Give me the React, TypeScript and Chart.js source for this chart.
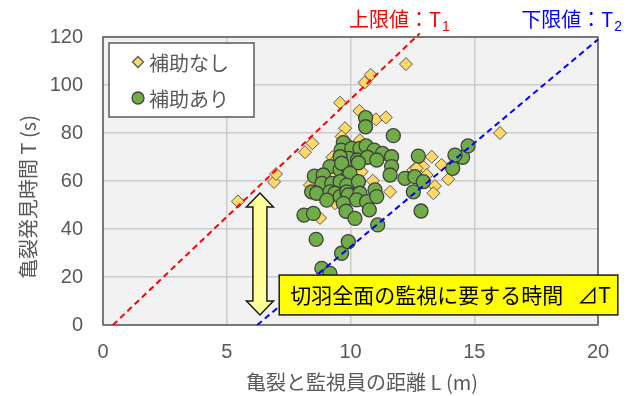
import React, { useEffect, useRef } from 'react';
import { Chart, registerables } from 'chart.js';

Chart.register(...registerables);

// 補助なし (diamonds): distance L (m) and detection time T (s)
const NO_ASSIST_L = [5.45, 6.91, 6.99, 8.16, 8.46, 9.58, 10.57, 10.82, 12.24, 10.36, 11.03, 11.43, 9.78, 9.64, 10.38, 9.27, 9.37, 10.45, 10.9, 11.6, 8.77, 8.36, 12.54, 13.28, 13.68, 13.95, 13.41, 13.35, 12.94, 13.08, 12.67, 16.04, 8.84, 9.35, 9.37, 10.07, 10.32, 9.98, 9.9, 10.1];
const NO_ASSIST_T = [51.5, 59.6, 62.9, 72.0, 75.7, 92.6, 101.0, 104.2, 108.7, 89.2, 85.7, 86.5, 82.0, 78.5, 77.0, 69.9, 62.5, 63.9, 60.1, 55.5, 44.6, 58.3, 64.6, 70.1, 66.7, 60.7, 57.9, 54.9, 66.0, 62.5, 65.3, 80.0, 62.5, 68.0, 50.7, 58.3, 57.0, 67.4, 75.5, 71.0];

// 補助あり (circles)
const ASSIST_L = [10.61, 10.61, 11.73, 9.71, 9.62, 10.05, 10.38, 10.63, 10.96, 11.29, 11.66, 9.94, 10.28, 10.69, 11.06, 9.58, 11.66, 12.74, 9.17, 9.58, 9.64, 10.32, 8.54, 8.9, 9.91, 9.98, 11.6, 12.2, 12.6, 12.94, 12.54, 8.84, 9.24, 9.58, 9.85, 10.32, 8.43, 8.63, 9.17, 9.37, 9.58, 9.85, 9.91, 10.38, 9.04, 9.71, 10.25, 10.65, 10.99, 11.06, 8.12, 8.5, 9.82, 10.18, 10.76, 11.1, 12.85, 8.61, 9.64, 9.91, 8.84, 9.17, 14.13, 14.53, 14.22, 14.75];
const ASSIST_T = [86.4, 82.6, 78.9, 76.0, 72.9, 73.6, 73.6, 74.6, 72.9, 71.5, 70.1, 69.4, 68.75, 69.9, 68.75, 70.1, 66.0, 70.4, 66.0, 64.6, 67.4, 67.6, 62.0, 62.5, 62.5, 63.2, 62.5, 61.1, 61.8, 59.7, 55.5, 59.0, 59.0, 59.7, 58.3, 59.7, 55.5, 54.9, 55.5, 54.9, 53.5, 55.5, 54.2, 54.9, 52.0, 50.7, 52.1, 51.4, 56.3, 53.5, 45.8, 46.5, 47.4, 44.4, 48.0, 41.7, 47.5, 35.7, 29.9, 34.7, 23.6, 21.5, 65.3, 69.9, 70.8, 74.6];

// limit lines T1 (upper) and T2 (lower)
const UPPER_L = [0.4, 12.8];
const UPPER_T = [0, 121.5];
const LOWER_L = [6.23, 20];
const LOWER_T = [0, 119];

// axis ticks
const X_TICKS = [0, 5, 10, 15, 20];
const Y_TICKS = [0, 20, 40, 60, 80, 100, 120];

// ΔT arrow and its caption box (data units)
const ARROW_L = 6.34;
const ARROW_T = [55, 4.2];
const NOTE_L = [7.12, 20.8];
const NOTE_T = [20.8, 4.2];

const JP = '"Noto Sans CJK JP", "Noto Sans", sans-serif';
const NUM = '"Liberation Sans", Arial, sans-serif';
const GRAY = '#595959';

const pairs = (xs: number[], ys: number[]) => xs.map((x, i) => ({ x, y: ys[i] }));

const decor = {
  id: 'decor',
  beforeDraw(chart: any) {
    const { ctx, chartArea: a } = chart;
    ctx.save();
    ctx.fillStyle = '#F2F2F2';
    ctx.fillRect(a.left, a.top, a.right - a.left, a.bottom - a.top);
    ctx.restore();
  },
  beforeDatasetsDraw(chart: any) {
    const { ctx, chartArea: a } = chart;
    ctx.save();
    ctx.strokeStyle = GRAY;
    ctx.lineWidth = 1.5;
    ctx.strokeRect(a.left, a.top, a.right - a.left, a.bottom - a.top);
    ctx.restore();
  },
  afterDatasetsDraw(chart: any) {
    const { ctx } = chart;
    const xs = chart.scales.x;
    const ys = chart.scales.y;

    // double-headed arrow
    const cx = xs.getPixelForValue(ARROW_L);
    const yt = ys.getPixelForValue(ARROW_T[0]);
    const yb = ys.getPixelForValue(ARROW_T[1]);
    const hw = 13.5, sw = 7, hh = 14;
    ctx.save();
    ctx.beginPath();
    ctx.moveTo(cx, yt);
    ctx.lineTo(cx + hw, yt + hh);
    ctx.lineTo(cx + sw, yt + hh);
    ctx.lineTo(cx + sw, yb - hh);
    ctx.lineTo(cx + hw, yb - hh);
    ctx.lineTo(cx, yb);
    ctx.lineTo(cx - hw, yb - hh);
    ctx.lineTo(cx - sw, yb - hh);
    ctx.lineTo(cx - sw, yt + hh);
    ctx.lineTo(cx - hw, yt + hh);
    ctx.closePath();
    ctx.fillStyle = '#FFFF99';
    ctx.fill();
    ctx.strokeStyle = '#1a1a1a';
    ctx.lineWidth = 1.5;
    ctx.lineJoin = 'miter';
    ctx.stroke();

    // caption box
    const bx0 = xs.getPixelForValue(NOTE_L[0]);
    const bx1 = xs.getPixelForValue(NOTE_L[1]);
    const by0 = ys.getPixelForValue(NOTE_T[0]);
    const by1 = ys.getPixelForValue(NOTE_T[1]);
    ctx.fillStyle = '#FFFF00';
    ctx.fillRect(bx0, by0, bx1 - bx0, by1 - by0);
    ctx.strokeStyle = '#1a1a1a';
    ctx.lineWidth = 1.5;
    ctx.strokeRect(bx0, by0, bx1 - bx0, by1 - by0);
    ctx.fillStyle = '#000000';
    ctx.font = `21px ${JP}`;
    ctx.textAlign = 'left';
    ctx.textBaseline = 'middle';
    ctx.fillText('切羽全面の監視に要する時間', bx0 + 11, (by0 + by1) / 2);
    ctx.fillText('⊿T', bx0 + 298, (by0 + by1) / 2);
    ctx.restore();
  },
  afterDraw(chart: any) {
    const { ctx, chartArea: a } = chart;
    const xs = chart.scales.x;
    ctx.save();

    // legend
    const lx = a.left + 6, ly = a.top + 6, lw = 145, lh = 74;
    ctx.fillStyle = '#FFFFFF';
    ctx.fillRect(lx, ly, lw, lh);
    ctx.strokeStyle = GRAY;
    ctx.lineWidth = 1.5;
    ctx.strokeRect(lx, ly, lw, lh);
    const ds = chart.data.datasets;
    const rows = [ds[0], ds[1]];
    rows.forEach((d: any, i: number) => {
      const my = ly + 19 + i * 36;
      const mx = lx + 29;
      ctx.beginPath();
      if (d.pointStyle === 'rectRot') {
        const r = 5.5;
        ctx.moveTo(mx - r, my);
        ctx.lineTo(mx, my - r);
        ctx.lineTo(mx + r, my);
        ctx.lineTo(mx, my + r);
        ctx.closePath();
      } else {
        ctx.arc(mx, my, 6, 0, Math.PI * 2);
      }
      ctx.fillStyle = d.backgroundColor;
      ctx.fill();
      ctx.strokeStyle = d.borderColor;
      ctx.lineWidth = 1.3;
      ctx.stroke();
      ctx.fillStyle = GRAY;
      ctx.font = `20px ${JP}`;
      ctx.textAlign = 'left';
      ctx.textBaseline = 'middle';
      ctx.fillText(d.label, lx + 40, my + 1);
    });

    // axis titles
    ctx.fillStyle = GRAY;
    ctx.font = `20px ${JP}`;
    ctx.textAlign = 'center';
    ctx.textBaseline = 'middle';
    ctx.fillText('亀裂と監視員の距離 L (m)', 362, 382);
    ctx.save();
    ctx.translate(28, 197);
    ctx.rotate(-Math.PI / 2);
    ctx.fillText('亀裂発見時間 T (s)', 0, 0);
    ctx.restore();

    // limit line labels with subscripts
    const label = (main: string, sub: string, color: string, endX: number) => {
      ctx.fillStyle = color;
      ctx.font = `20px ${JP}`;
      ctx.textAlign = 'left';
      ctx.textBaseline = 'middle';
      const w = ctx.measureText(main).width;
      ctx.font = `14px ${NUM}`;
      const sw2 = ctx.measureText(sub).width;
      const x0 = endX - sw2 - 1 - w;
      ctx.font = `20px ${JP}`;
      ctx.fillText(main, x0, 19);
      ctx.font = `14px ${NUM}`;
      ctx.fillText(sub, x0 + w + 1, 27);
    };
    const ux = xs.getPixelForValue(UPPER_L[1]);
    const bxp = xs.getPixelForValue(LOWER_L[1]);
    label('上限値：T', '1', '#FF0000', ux + 30);
    label('下限値：T', '2', '#0000FF', bxp + 24);
    ctx.restore();
  },
};

export default function App() {
  const ref = useRef<HTMLCanvasElement | null>(null);

  useEffect(() => {
    if (!ref.current) return;
    const chart = new Chart(ref.current, {
      type: 'scatter',
      data: {
        datasets: [
          {
            label: '補助なし',
            data: pairs(NO_ASSIST_L, NO_ASSIST_T),
            pointStyle: 'rectRot',
            pointRadius: 6.5,
            backgroundColor: '#FFD966',
            borderColor: '#595959',
            borderWidth: 1,
            order: 3,
          },
          {
            label: '補助あり',
            data: pairs(ASSIST_L, ASSIST_T),
            pointStyle: 'circle',
            pointRadius: 7,
            backgroundColor: '#70AD47',
            borderColor: '#404040',
            borderWidth: 1.3,
            order: 2,
          },
          {
            label: '上限値',
            data: pairs(UPPER_L, UPPER_T),
            showLine: true,
            pointRadius: 0,
            borderColor: '#FF0000',
            borderWidth: 2,
            borderDash: [6, 4],
            clip: false,
            order: 1,
          },
          {
            label: '下限値',
            data: pairs(LOWER_L, LOWER_T),
            showLine: true,
            pointRadius: 0,
            borderColor: '#0000FF',
            borderWidth: 2,
            borderDash: [6, 4],
            clip: false,
            order: 1,
          },
        ] as any,
      },
      options: {
        animation: false,
        responsive: false,
        events: [],
        layout: { padding: { top: 37, right: 40, left: 0, bottom: 0 } },
        plugins: { legend: { display: false }, tooltip: { enabled: false } },
        scales: {
          x: {
            type: 'linear',
            min: X_TICKS[0],
            max: X_TICKS[X_TICKS.length - 1],
            afterBuildTicks: (s: any) => { s.ticks = X_TICKS.map((v) => ({ value: v })); },
            afterFit: (s: any) => { s.height = 71; },
            ticks: { color: GRAY, font: { family: NUM, size: 20 }, padding: 15, maxRotation: 0 },
            grid: { color: '#CCCCCC', lineWidth: 1.5, drawTicks: false },
            border: { display: false },
          },
          y: {
            type: 'linear',
            min: Y_TICKS[0],
            max: Y_TICKS[Y_TICKS.length - 1],
            afterBuildTicks: (s: any) => { s.ticks = Y_TICKS.map((v) => ({ value: v })); },
            afterFit: (s: any) => { s.width = 103; },
            ticks: { color: GRAY, font: { family: NUM, size: 20 }, padding: 20 },
            grid: { color: '#CCCCCC', lineWidth: 1.5, drawTicks: false },
            border: { display: false },
          },
        },
      } as any,
      plugins: [decor],
    });
    return () => chart.destroy();
  }, []);

  return (
    <div style={{ position: 'absolute', left: 0, top: 0, width: 638, height: 396, background: '#FFFFFF' }}>
      <canvas ref={ref} width={638} height={396} style={{ display: 'block' }} />
    </div>
  );
}
